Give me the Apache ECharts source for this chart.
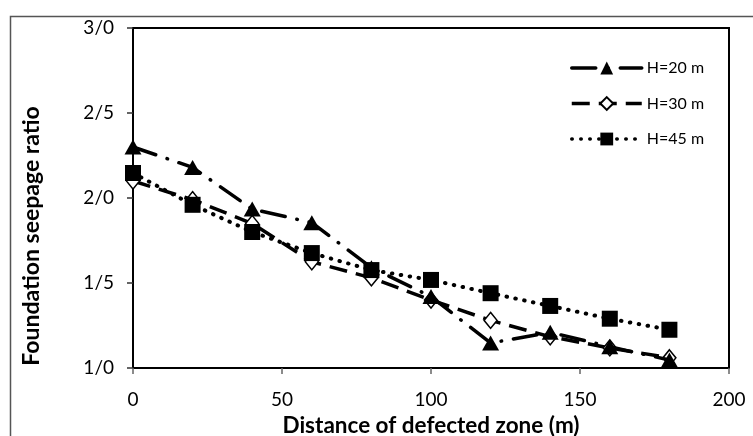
<!DOCTYPE html>
<html>
<head>
<meta charset="utf-8">
<script src="https://cdn.jsdelivr.net/npm/echarts@6/dist/echarts.min.js"></script>
<style>html,body{margin:0;padding:0;background:#fff}#c{width:753px;height:436px}</style>
</head>
<body>
<div id="c"></div>
<script>
var xValues = [0, 20, 40, 60, 80, 100, 120, 140, 160, 180];
var h20 = [2.30, 2.18, 1.935, 1.855, 1.59, 1.42, 1.147, 1.21, 1.125, 1.047];
var h30 = [2.10, 1.99, 1.85, 1.625, 1.53, 1.40, 1.28, 1.184, 1.118, 1.06];
var h45 = [2.147, 1.96, 1.80, 1.676, 1.576, 1.518, 1.44, 1.365, 1.29, 1.225];
var seriesNames = ['H=20 m', 'H=30 m', 'H=45 m'];
var yTicks = {min: 1, max: 3, interval: 0.5};
var xTicks = {min: 0, max: 200, interval: 50};
var yTitle = 'Foundation seepage ratio';
var xTitle = 'Distance of defected zone (m)';

function pairs(vals){ return xValues.map(function(x,i){ return [x, vals[i]]; }); }
var FONT = 'Lato';
var dash20 = [24, 12, 0.5, 12], dash30 = [18, 9], dash45 = [0.5, 8.5];
var chart = echarts.init(document.getElementById('c'), null, {renderer: 'canvas'});
chart.setOption({
  animation: false,
  backgroundColor: '#fff',
  textStyle: {fontFamily: FONT},
  graphic: [{
    type: 'rect', left: 8, top: 14, silent: true, z: -10,
    shape: {x: 0, y: 0, width: 900, height: 600},
    style: {fill: 'none', stroke: '#555', lineWidth: 1.5}
  }, {
    type: 'text', x: 32, y: 236, rotation: Math.PI / 2, silent: true,
    style: {text: yTitle, fontFamily: FONT, fontWeight: 'bold', fontSize: 23, fill: '#000',
      align: 'center', verticalAlign: 'middle'}
  }],
  grid: {left: 133, right: 24, top: 28, bottom: 68, show: true, borderColor: '#000', borderWidth: 2,
    backgroundColor: 'transparent', containLabel: false, outerBoundsMode: 'none'},
  legend: {
    orient: 'vertical', left: 570, top: 60, padding: 0,
    data: [
      {name: seriesNames[0], lineStyle: {width: 3.5, type: dash20, cap: 'round', color: '#000'}},
      {name: seriesNames[1], lineStyle: {width: 3.5, type: dash30, color: '#000'}},
      {name: seriesNames[2], lineStyle: {width: 3.5, type: dash45, cap: 'round', color: '#000'}}
    ],
    itemWidth: 70, itemHeight: 16, itemGap: 19.5,
    textStyle: {fontFamily: FONT, fontSize: 16, color: '#000'}
  },
  xAxis: {
    type: 'value', min: xTicks.min, max: xTicks.max, interval: xTicks.interval,
    name: xTitle, nameLocation: 'middle', nameGap: 46,
    nameTextStyle: {fontFamily: FONT, fontWeight: 'bold', fontSize: 22.5, color: '#000'},
    axisLine: {onZero: false, lineStyle: {color: '#000', width: 2}},
    axisTick: {show: true, length: 6, lineStyle: {color: '#666', width: 1.5}},
    axisLabel: {fontFamily: FONT, fontSize: 19, color: '#000', margin: 22},
    splitLine: {show: false}
  },
  yAxis: {
    type: 'value', min: yTicks.min, max: yTicks.max, interval: yTicks.interval,
    axisLine: {onZero: false, lineStyle: {color: '#000', width: 2}},
    axisTick: {show: true, length: 6, lineStyle: {color: '#333', width: 1.5}},
    axisLabel: {fontFamily: FONT, fontSize: 19, color: '#000', margin: 19,
      formatter: function(v){ return v.toFixed(1).replace('.', '/'); }},
    splitLine: {show: false}
  },
  series: [
    {
      name: seriesNames[1], type: 'line', data: pairs(h30), z: 2,
      symbol: 'diamond', symbolSize: [13, 16], showAllSymbol: true,
      itemStyle: {color: '#fff', borderColor: '#000', borderWidth: 1.5},
      lineStyle: {color: '#000', width: 3.5, type: dash30}
    },
    {
      name: seriesNames[2], type: 'line', data: pairs(h45), z: 3,
      symbol: 'rect', symbolSize: 16,
      itemStyle: {color: '#000'},
      lineStyle: {color: '#000', width: 4, type: dash45, cap: 'round'}
    },
    {
      name: seriesNames[0], type: 'line', data: pairs(h20), z: 4,
      symbol: 'triangle', symbolSize: [17, 15],
      itemStyle: {color: '#000'},
      lineStyle: {color: '#000', width: 3.5, type: dash20, cap: 'round'}
    }
  ]
});
</script>
</body>
</html>
